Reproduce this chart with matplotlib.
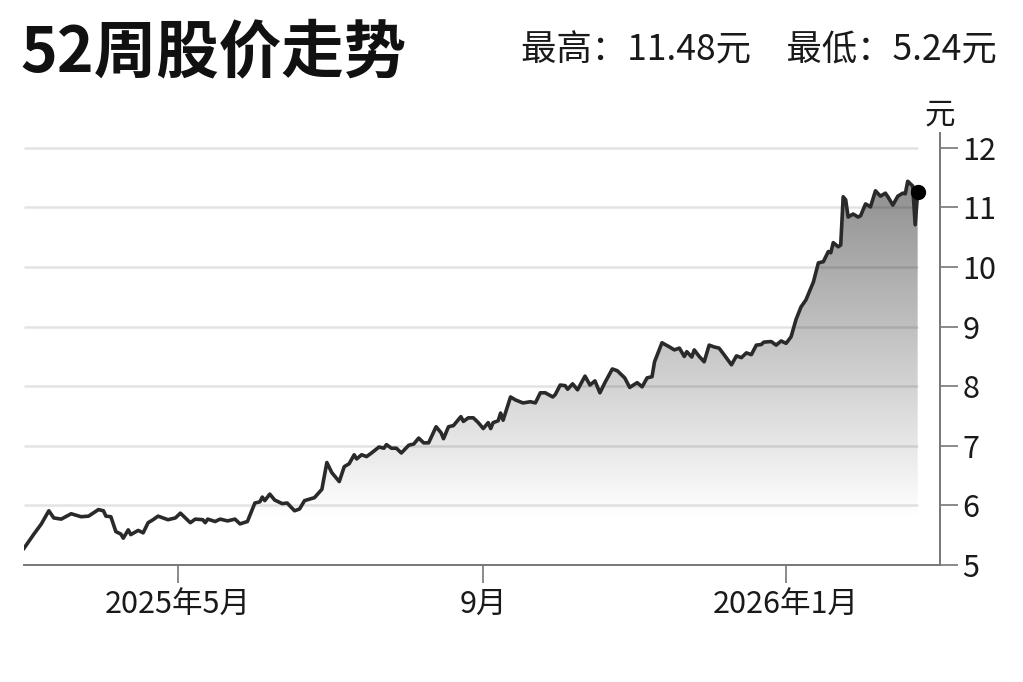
import numpy as np
import pandas as pd
import matplotlib
matplotlib.use("Agg")
import matplotlib.pyplot as plt
import matplotlib.dates as mdates
from matplotlib.colors import LinearSegmentedColormap

plt.rcParams['font.family'] = ['Noto Sans CJK SC', 'DejaVu Sans']

# =========================
# Données
# =========================
dates = [
    "2025-02-28", "2025-03-04", "2025-03-07", "2025-03-10", "2025-03-12", "2025-03-15",
    "2025-03-19", "2025-03-23", "2025-03-26", "2025-03-30", "2025-04-01", "2025-04-02",
    "2025-04-04", "2025-04-06", "2025-04-08", "2025-04-09", "2025-04-11", "2025-04-12",
    "2025-04-15", "2025-04-17", "2025-04-19", "2025-04-21", "2025-04-23", "2025-04-27",
    "2025-04-30", "2025-05-02", "2025-05-06", "2025-05-08", "2025-05-11", "2025-05-12",
    "2025-05-13", "2025-05-16", "2025-05-18", "2025-05-21", "2025-05-24", "2025-05-26",
    "2025-05-29", "2025-06-01", "2025-06-03", "2025-06-04", "2025-06-05", "2025-06-07",
    "2025-06-09", "2025-06-12", "2025-06-14", "2025-06-17", "2025-06-19", "2025-06-21",
    "2025-06-25", "2025-06-28", "2025-06-30", "2025-07-02", "2025-07-05", "2025-07-07",
    "2025-07-09", "2025-07-11", "2025-07-12", "2025-07-14", "2025-07-16", "2025-07-18",
    "2025-07-21", "2025-07-23", "2025-07-24", "2025-07-26", "2025-07-28", "2025-07-30",
    "2025-08-02", "2025-08-04", "2025-08-06", "2025-08-08", "2025-08-10", "2025-08-13",
    "2025-08-15", "2025-08-16", "2025-08-18", "2025-08-20", "2025-08-23", "2025-08-24",
    "2025-08-26", "2025-08-28", "2025-08-30", "2025-09-01", "2025-09-03", "2025-09-04",
    "2025-09-05", "2025-09-07", "2025-09-08", "2025-09-09", "2025-09-12", "2025-09-14",
    "2025-09-17", "2025-09-20", "2025-09-22", "2025-09-24", "2025-09-26", "2025-09-29",
    "2025-09-30", "2025-10-02", "2025-10-04", "2025-10-05", "2025-10-07", "2025-10-09",
    "2025-10-12", "2025-10-14", "2025-10-16", "2025-10-18", "2025-10-20", "2025-10-23",
    "2025-10-25", "2025-10-28", "2025-10-30", "2025-11-02", "2025-11-04", "2025-11-06",
    "2025-11-08", "2025-11-09", "2025-11-12", "2025-11-15", "2025-11-17", "2025-11-19",
    "2025-11-21", "2025-11-22", "2025-11-24", "2025-11-25", "2025-11-27", "2025-11-29",
    "2025-12-01", "2025-12-03", "2025-12-05", "2025-12-07", "2025-12-10", "2025-12-12",
    "2025-12-14", "2025-12-16", "2025-12-18", "2025-12-20", "2025-12-22", "2025-12-23",
    "2025-12-26", "2025-12-28", "2025-12-30", "2026-01-01", "2026-01-03", "2026-01-05",
    "2026-01-07", "2026-01-09", "2026-01-11", "2026-01-12", "2026-01-14", "2026-01-16",
    "2026-01-18", "2026-01-19", "2026-01-20", "2026-01-22", "2026-01-23", "2026-01-24",
    "2026-01-25", "2026-01-26", "2026-01-28", "2026-01-30", "2026-01-31", "2026-02-02",
    "2026-02-04", "2026-02-06", "2026-02-08", "2026-02-10", "2026-02-11", "2026-02-13",
    "2026-02-15", "2026-02-17", "2026-02-18", "2026-02-19", "2026-02-20", "2026-02-21",
    "2026-02-22", "2026-02-23",
]
prix = [
    5.28, 5.52, 5.69, 5.91, 5.79, 5.77,
    5.86, 5.81, 5.82, 5.93, 5.91, 5.82,
    5.81, 5.56, 5.52, 5.45, 5.59, 5.51,
    5.58, 5.54, 5.71, 5.76, 5.82, 5.76,
    5.79, 5.87, 5.71, 5.77, 5.76, 5.71,
    5.77, 5.73, 5.77, 5.74, 5.77, 5.69,
    5.73, 6.04, 6.06, 6.14, 6.08, 6.19,
    6.09, 6.03, 6.04, 5.91, 5.94, 6.08,
    6.13, 6.27, 6.72, 6.55, 6.40, 6.65,
    6.70, 6.85, 6.78, 6.85, 6.82, 6.88,
    6.98, 6.96, 7.02, 6.96, 6.96, 6.88,
    7.01, 7.03, 7.13, 7.05, 7.05, 7.32,
    7.22, 7.12, 7.32, 7.34, 7.49, 7.41,
    7.47, 7.47, 7.39, 7.29, 7.39, 7.29,
    7.39, 7.42, 7.55, 7.43, 7.82, 7.77,
    7.72, 7.74, 7.72, 7.89, 7.89, 7.82,
    7.86, 8.02, 8.01, 7.95, 8.04, 7.94,
    8.17, 8.02, 8.09, 7.89, 8.06, 8.29,
    8.26, 8.14, 7.98, 8.06, 7.99, 8.14,
    8.16, 8.41, 8.73, 8.66, 8.61, 8.64,
    8.50, 8.58, 8.49, 8.61, 8.50, 8.41,
    8.69, 8.66, 8.64, 8.53, 8.36, 8.51,
    8.48, 8.56, 8.53, 8.69, 8.70, 8.74,
    8.75, 8.69, 8.76, 8.72, 8.83, 9.12,
    9.33, 9.45, 9.65, 9.75, 10.07, 10.09,
    10.26, 10.24, 10.41, 10.34, 10.37, 11.18,
    11.13, 10.84, 10.89, 10.84, 10.86, 11.06,
    11.01, 11.28, 11.19, 11.24, 11.18, 11.04,
    11.19, 11.24, 11.23, 11.44, 11.40, 11.36,
    10.71, 11.26,
]

tick_dates = ["2025-05-01", "2025-09-01", "2026-01-01"]
tick_labels = ["2025年5月", "9月", "2026年1月"]
y_ticks = [5, 6, 7, 8, 9, 10, 11, 12]
plus_haut = 11.48
plus_bas = 5.24

d = pd.to_datetime(dates)
xn = mdates.date2num(d)

# =========================
# Figure
# =========================
W, H = 1023, 682
fig = plt.figure(figsize=(W / 100, H / 100), dpi=100)
ax = fig.add_axes([24 / W, 1 - 565 / H, (940 - 24) / W, (565 - 133) / H])

# dégradé sous la courbe
fill = ax.fill_between(d, prix, 5, color="none", lw=0)
cmap = LinearSegmentedColormap.from_list("gris", ["#8c8c8c", "#ffffff"])
img = ax.imshow(np.linspace(0, 1, 256).reshape(-1, 1), cmap=cmap, aspect="auto",
                extent=[xn[0], xn[-1], 5.8, 11.6], origin="upper", zorder=1)
img.set_clip_path(fill.get_paths()[0], transform=ax.transData)

ax.hlines(y_ticks[1:], xn[0], xn[-1], color="black", alpha=0.11, lw=1.8, zorder=2)

ax.plot(d, prix, color="#2a2a2a", lw=2.6, zorder=4, solid_joinstyle="round")
ax.plot(d[-1], prix[-1], "o", color="black", ms=10, zorder=5)

ax.set_xlim(pd.Timestamp("2025-02-28"), pd.Timestamp("2026-03-04"))
ax.set_ylim(5, 12.25)

# axes
for s in ["left", "top"]:
    ax.spines[s].set_visible(False)
for s in ["bottom", "right"]:
    ax.spines[s].set_color("#777777")
    ax.spines[s].set_linewidth(1.4)

ax.yaxis.tick_right()
ax.set_yticks(y_ticks)
ax.tick_params(axis="y", length=13, width=1.2, color="#777777", labelsize=22,
               pad=3, labelcolor="#1a1a1a")
ax.set_xticks(pd.to_datetime(tick_dates))
ax.set_xticklabels(tick_labels)
ax.tick_params(axis="x", length=13, width=1.2, color="#777777", labelsize=22,
               pad=4, labelcolor="#1a1a1a")

fig.text(940 / W, 1 - 115 / H, "元", ha="center", va="center", fontsize=22, color="#1a1a1a")

# titres
fig.text(20 / W, 1 - 53 / H, "52周股价走势", fontsize=45, fontweight="bold",
         ha="left", va="center", color="#111111")
fig.text(997 / W, 1 - 50 / H, f"最高：{plus_haut:.2f}元　最低：{plus_bas:.2f}元",
         fontsize=25.5, ha="right", va="center", color="#1a1a1a")

fig.savefig("out.png", dpi=100, facecolor="white")
